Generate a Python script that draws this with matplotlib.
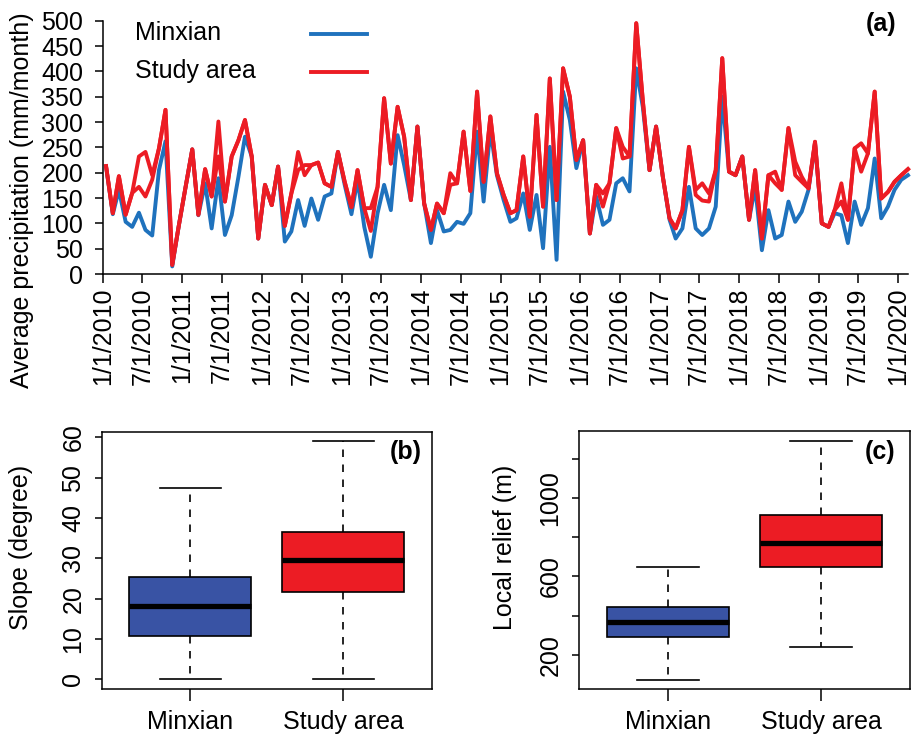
import matplotlib
matplotlib.use("Agg")
import matplotlib.pyplot as plt
import pandas as pd
from matplotlib.lines import Line2D

plt.rcParams['font.family'] = ['Liberation Sans', 'DejaVu Sans']

# ---------------- data ----------------
minxian = [212, 118, 166, 103, 93, 121, 87, 76, 205, 262,
           15, 95, 171, 246, 116, 179, 90, 189, 77, 116,
           192, 271, 232, 70, 176, 136, 212, 64, 84, 146,
           95, 149, 107, 153, 159, 241, 176, 118, 186, 93,
           34, 120, 176, 126, 274, 215, 146, 291, 139, 61,
           126, 84, 87, 103, 99, 120, 281, 143, 285, 195,
           146, 103, 110, 159, 87, 156, 51, 251, 28, 360,
           304, 209, 264, 80, 153, 97, 107, 179, 189, 163,
           406, 330, 205, 291, 192, 107, 70, 90, 172, 90,
           77, 90, 133, 350, 202, 195, 232, 107, 172, 47,
           126, 70, 77, 143, 103, 123, 166, 258, 100, 93,
           120, 116, 61, 143, 97, 130, 228, 110, 133, 166,
           186, 195]

study_area = [213, 120, 193, 117, 160, 232, 241, 195, 248, 324,
              18, 95, 171, 246, 117, 207, 153, 301, 143, 232,
              264, 304, 232, 70, 176, 136, 212, 95, 159, 241,
              195, 215, 220, 179, 172, 241, 182, 132, 205, 130,
              130, 172, 347, 218, 330, 271, 146, 291, 139, 87,
              139, 120, 199, 179, 281, 164, 360, 182, 311, 199,
              156, 120, 126, 232, 113, 314, 133, 386, 146, 406,
              350, 225, 264, 80, 176, 159, 179, 288, 251, 232,
              495, 343, 205, 291, 192, 110, 90, 126, 251, 166,
              179, 159, 205, 426, 202, 195, 232, 107, 205, 70,
              195, 202, 166, 288, 222, 192, 169, 261, 100, 93,
              126, 179, 107, 248, 258, 238, 360, 149, 162, 182,
              195, 207]

study_area_alt = [213, 120, 193, 117, 160, 172, 153, 186, 248, 324,
                  18, 95, 171, 246, 117, 207, 153, 232, 143, 232,
                  264, 304, 232, 70, 176, 136, 212, 95, 159, 205,
                  215, 215, 220, 179, 172, 241, 182, 132, 205, 130,
                  85, 172, 347, 218, 330, 271, 146, 291, 139, 87,
                  139, 120, 176, 179, 281, 164, 360, 182, 311, 199,
                  156, 120, 126, 232, 113, 314, 133, 386, 146, 406,
                  350, 225, 264, 80, 176, 133, 179, 288, 228, 232,
                  495, 343, 205, 291, 192, 110, 90, 126, 251, 156,
                  145, 143, 205, 426, 202, 195, 232, 107, 205, 70,
                  195, 179, 166, 288, 195, 182, 169, 261, 100, 93,
                  126, 143, 107, 248, 202, 238, 360, 149, 162, 182,
                  195, 207]

box_groups = ["Minxian", "Study area"]
slope_stats = {  # whislo, q1, med, q3, whishi
    "Minxian": [0, 10.8, 18.1, 25.5, 47.5],
    "Study area": [0, 21.6, 29.5, 36.6, 59.2],
}
relief_stats = {
    "Minxian": [72, 292, 367, 442, 646],
    "Study area": [241, 646, 772, 913, 1294],
}

BLUE_LINE = "#1F72BD"
RED = "#EC1C24"
BLUE_BOX = "#3953A4"
FS = 18
LW = 2.8

W, H = 911, 738
fig = plt.figure(figsize=(W / 100, H / 100), dpi=100)


def fx(px):
    return px / W


def fy(py):
    return 1 - py / H


# ---------------- panel (a) ----------------
ax = fig.add_axes([fx(103), fy(274), fx(908) - fx(103), fy(20.7) - fy(274)])
dates = pd.date_range('2010-01-01', periods=len(minxian), freq='MS') + pd.Timedelta(days=14)
ax.plot(dates, minxian, color=BLUE_LINE, lw=LW, clip_on=False)
ax.plot(dates, study_area_alt, color=RED, lw=LW, clip_on=False)
ax.plot(dates, study_area, color=RED, lw=LW, clip_on=False)
ax.set_xlim(pd.Timestamp('2010-01-01'), dates[-1])
ax.set_ylim(0, 500)
ticks = pd.date_range('2010-01-01', '2020-01-01', freq='6MS')
ax.set_xticks(ticks)
ax.set_xticklabels([f"{t.month}/1/{t.year}" for t in ticks], rotation=90)
ax.set_yticks(range(0, 501, 50))
for s in ['top', 'right']:
    ax.spines[s].set_visible(False)
for s in ['left', 'bottom']:
    ax.spines[s].set_linewidth(1.1)
ax.tick_params(axis='x', length=6.5, width=1.1, labelsize=FS, pad=3)
ax.tick_params(axis='y', length=5.7, width=1.1, labelsize=FS, pad=8.5)
fig.text(fx(22), fy(200), "Average precipitation (mm/month)", rotation=90,
         ha='center', va='center', fontsize=FS)

# legend (manual, text first then line)
fig.text(fx(135), fy(33.5), "Minxian", ha='left', va='center', fontsize=FS)
fig.text(fx(135), fy(71), "Study area", ha='left', va='center', fontsize=FS)
fig.add_artist(Line2D([fx(310.7), fx(367.3)], [fy(34.3), fy(34.3)],
                      transform=fig.transFigure, color=BLUE_LINE, lw=LW))
fig.add_artist(Line2D([fx(310.7), fx(367.3)], [fy(71.7), fy(71.7)],
                      transform=fig.transFigure, color=RED, lw=LW))
fig.text(fx(896), fy(24), "(a)", ha='right', va='center', fontsize=FS, fontweight='bold')


# ---------------- box panels ----------------
def make_stats(d):
    out = []
    for g in box_groups:
        lo, q1, med, q3, hi = d[g]
        out.append(dict(whislo=lo, q1=q1, med=med, q3=q3, whishi=hi, fliers=[], label=g))
    return out


def boxpanel(rect, d, ylim, yticks, yticklabels, ylabel, ylabel_x, tag, tag_x):
    bx = fig.add_axes(rect)
    res = bx.bxp(make_stats(d), positions=[1, 2], widths=0.8, patch_artist=True,
                 showfliers=False, capwidths=0.4,
                 boxprops=dict(linewidth=1.2, edgecolor='black'),
                 whiskerprops=dict(linewidth=1.2, linestyle=(0, (4.5, 4.5)), color='black'),
                 capprops=dict(linewidth=1.2, color='black'),
                 medianprops=dict(linewidth=3.8, color='black', solid_capstyle='butt'))
    for patch, c in zip(res['boxes'], [BLUE_BOX, RED]):
        patch.set_facecolor(c)
    bx.set_xlim(0.42, 2.58)
    bx.set_ylim(*ylim)
    bx.set_xticks([1, 2])
    bx.set_xticklabels(box_groups)
    bx.set_yticks(yticks)
    bx.set_yticklabels(yticklabels, rotation=90, va='center')
    for s in bx.spines.values():
        s.set_linewidth(1.1)
    bx.tick_params(axis='x', length=8.4, width=1.1, labelsize=FS, pad=6.5)
    bx.tick_params(axis='y', length=5.3, width=1.1, labelsize=FS, pad=6.5)
    fig.text(fx(ylabel_x), fy(547), ylabel, rotation=90, ha='center', va='center', fontsize=FS)
    fig.text(fx(tag_x), fy(452.5), tag, ha='right', va='center', fontsize=FS, fontweight='bold')
    return bx


boxpanel([fx(101.7), fy(689), fx(431.7) - fx(101.7), fy(431.7) - fy(689)],
         slope_stats, (-2.36, 61.4), list(range(0, 61, 10)),
         [str(v) for v in range(0, 61, 10)], "Slope (degree)", 21, "(b)", 422)

relief_ticks = [200, 400, 600, 800, 1000, 1200]
relief_labels = ["200", "", "600", "", "1000", ""]
boxpanel([fx(579), fy(689.3), fx(910) - fx(579), fy(431) - fy(689.3)],
         relief_stats, (23, 1343), relief_ticks, relief_labels,
         "Local relief (m)", 505, "(c)", 895)

fig.savefig("out.png", dpi=100)
